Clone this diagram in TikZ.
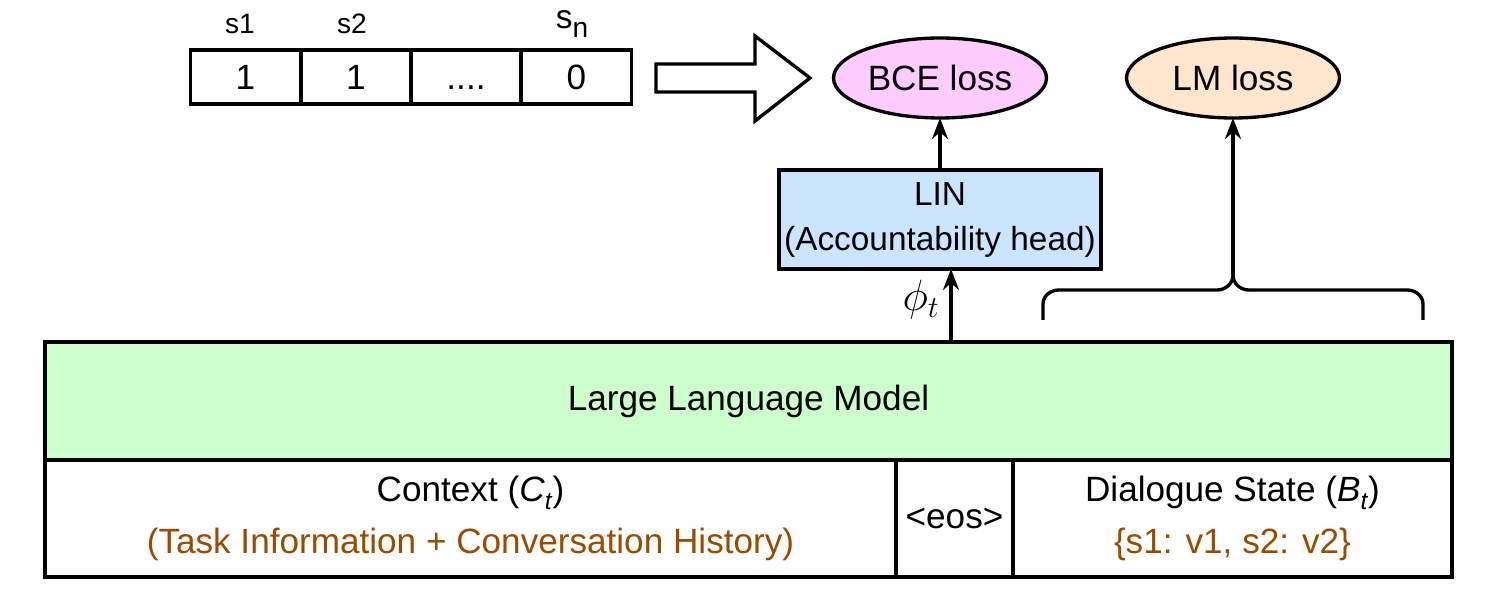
\documentclass[tikz,border=0pt]{standalone}
\usepackage{fontspec}
\setmainfont{Liberation Sans}
\usetikzlibrary{arrows.meta,shapes.geometric}
\definecolor{pinkf}{HTML}{FFCCFF}
\definecolor{peachf}{HTML}{FFE6CC}
\definecolor{bluef}{HTML}{CCE5FF}
\definecolor{greenf}{HTML}{CCFFCC}
\definecolor{brownt}{HTML}{994C00}
\tikzset{
  px/.style={x=0.02cm,y=-0.02cm},
  thickln/.style={line width=1.9pt},
  box/.style={draw,thickln,rectangle,inner sep=0pt,outer sep=0pt,font=\fontsize{20}{25.6}\selectfont,align=center},
  cell/.style={box,minimum width=2.2cm,minimum height=1.08cm},
  lbl/.style={font=\fontsize{16}{19}\selectfont,inner sep=0pt},
  loss/.style={draw,thickln,ellipse,inner sep=0pt,outer sep=0pt,minimum width=4.26cm,minimum height=1.6cm,font=\fontsize{20}{25}\selectfont},
  arr/.style={thickln,-{Stealth[length=0.42cm,width=0.32cm]}},
}
\begin{document}
\begin{tikzpicture}[px]
\useasboundingbox (0,0) rectangle (1492,601);
% array
\node[cell] (c1) at (245.5,77) {1};
\node[cell] (c2) at (356,77) {1};
\node[cell] (c3) at (466,77) {\vphantom{1}....};
\node[cell] (c4) at (576.5,77) {0};
\node[lbl] (l1) at (240,24) {s1};
\node[lbl] (l2) at (352,24) {s2};
\node[lbl,font=\fontsize{19}{22}\selectfont] (l3) at (572,24) {s\raisebox{-0.5ex}{\fontsize{16}{18}\selectfont n}};
% big arrow
\draw[thickln,line join=miter] (656,64) -- (755,64) -- (755,36) -- (810,78) -- (755,121) -- (755,92) -- (656,92) -- cycle;
% losses
\node[loss,fill=pinkf] (bce) at (940,78) {BCE loss};
\node[loss,fill=peachf] (lm) at (1233,78) {LM loss};
% LIN
\node[box,fill=bluef,minimum width=6.44cm,minimum height=1.98cm,font=\fontsize{19}{25.6}\selectfont] (lin) at (940,219.5) {LIN\\(Accountability head)};
% LLM
\node[box,fill=greenf,minimum width=28.14cm,minimum height=2.36cm] (llm) at (748.5,401) {Large Language Model};
% bottom row
\node[box,minimum width=17.02cm,minimum height=2.34cm] (ctx) at (470.5,518.5) {Context (\textit{C}\raisebox{-0.45ex}{\fontsize{14}{16}\selectfont\textit{t}})\\[4pt]{\color{brownt}(Task Information + Conversation History)}};
\node[box,minimum width=2.34cm,minimum height=2.34cm] (eos) at (954.5,518.5) {<eos>};
\node[box,minimum width=8.78cm,minimum height=2.34cm] (ds) at (1232.5,518.5) {Dialogue State (\textit{B}\raisebox{-0.45ex}{\fontsize{14}{16}\selectfont\textit{t}})\\[4pt]{\color{brownt}\{s1: v1, s2: v2\}}};
% arrows
\draw[arr] (lin.north -| bce.south) -- (bce.south);
\coordinate (phib) at (951,342);
\draw[arr] (phib) -- (phib |- lin.south);
\node[font=\fontsize{27}{30}\selectfont,inner sep=0pt] (phi) at (921,300) {$\phi_t$};
% brace
\coordinate (bl) at (1043,320);
\coordinate (br) at (1423,320);
\coordinate (bt) at (1233,275);
\draw[thickln] (bl) -- (1043,304) to[out=90,in=180] (1059,290) -- (1217,290) to[out=0,in=-90] (bt)
  to[out=-90,in=180] (1249,290) -- (1407,290) to[out=0,in=90] (1423,304) -- (br);
\draw[arr] (bt) -- (lm.south);
\end{tikzpicture}
\end{document}
